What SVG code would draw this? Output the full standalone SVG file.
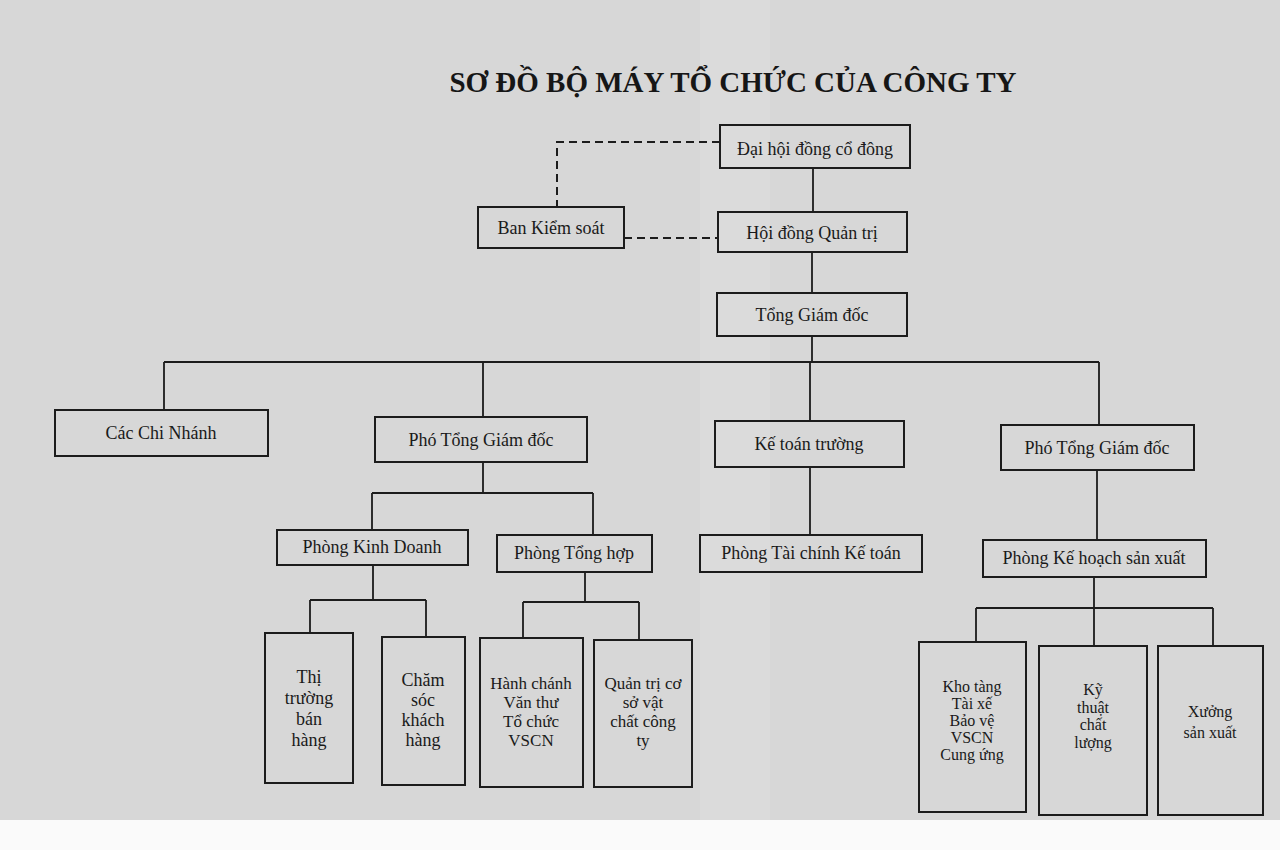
<svg xmlns="http://www.w3.org/2000/svg" width="1280" height="850" viewBox="0 0 1280 850">
<style>
.bx{fill:none;stroke:#1c1c1c;stroke-width:2}
.t{font-family:"Liberation Serif","Times New Roman",serif;font-size:18px;fill:#1a1a1a;text-anchor:middle}
.s{font-size:16px}
.m{font-size:17px}
.ttl{font-family:"Liberation Serif","Times New Roman",serif;font-size:29px;font-weight:bold;fill:#161616;text-anchor:middle}
.ln{fill:none;stroke:#1c1c1c;stroke-width:1.8}
.dl{fill:none;stroke:#1c1c1c;stroke-width:2;stroke-dasharray:8 5}
</style>
<rect x="0" y="0" width="1280" height="850" fill="#fafafa"/>
<rect x="0" y="0" width="1280" height="820" fill="#d7d7d7"/>
<rect x="700" y="0" width="70" height="820" fill="#dedede" opacity="0.6"/>
<text class="ttl" x="733" y="92">SƠ ĐỒ BỘ MÁY TỔ CHỨC CỦA CÔNG TY</text>
<g id="connectors">
<path class="dl" d="M720,142 H557 V207"/>
<path class="dl" d="M624,238 H718"/>
<path class="ln" d="M813,168 V212"/>
<path class="ln" d="M812,252 V293"/>
<path class="ln" d="M812,336 V362"/>
<path class="ln" d="M164,362 H1099"/>
<path class="ln" d="M164,362 V410 M483,362 V417 M810,362 V421 M1099,362 V425"/>
<path class="ln" d="M483,462 V493 M372,493 H593 M372,493 V530 M593,493 V535"/>
<path class="ln" d="M810,467 V535"/>
<path class="ln" d="M1097,470 V540"/>
<path class="ln" d="M373,565 V600 M310,600 H426 M310,600 V633 M426,600 V637"/>
<path class="ln" d="M585,572 V602 M523,602 H639 M523,602 V638 M639,602 V640"/>
<path class="ln" d="M1094,577 V608 M976,608 H1213 M976,608 V642 M1094,608 V646 M1213,608 V646"/>
</g>
<g id="n-dhcd"><rect class="bx" x="720" y="125" width="190" height="43"/><text class="t" x="815" y="155">Đại hội đồng cổ đông</text></g>
<g id="n-hdqt"><rect class="bx" x="718" y="212" width="189" height="40"/><text class="t" x="812" y="239">Hội đồng Quản trị</text></g>
<g id="n-bks"><rect class="bx" x="478" y="207" width="146" height="41"/><text class="t" x="551" y="234">Ban Kiểm soát</text></g>
<g id="n-tgd"><rect class="bx" x="717" y="293" width="190" height="43"/><text class="t" x="812" y="321">Tổng Giám đốc</text></g>
<g id="n-ccn"><rect class="bx" x="55" y="410" width="213" height="46"/><text class="t" x="161" y="439">Các Chi Nhánh</text></g>
<g id="n-ptgd1"><rect class="bx" x="375" y="417" width="212" height="45"/><text class="t" x="481" y="446">Phó Tổng Giám đốc</text></g>
<g id="n-ktt"><rect class="bx" x="715" y="421" width="189" height="46"/><text class="t" x="809" y="450">Kế toán trường</text></g>
<g id="n-ptgd2"><rect class="bx" x="1001" y="425" width="193" height="45"/><text class="t" x="1097" y="454">Phó Tổng Giám đốc</text></g>
<g id="n-pkd"><rect class="bx" x="277" y="530" width="191" height="35"/><text class="t" x="372" y="553">Phòng Kinh Doanh</text></g>
<g id="n-pth"><rect class="bx" x="497" y="535" width="155" height="37"/><text class="t" x="574" y="559">Phòng Tổng hợp</text></g>
<g id="n-ptckt"><rect class="bx" x="700" y="535" width="222" height="37"/><text class="t" x="811" y="559">Phòng Tài chính Kế toán</text></g>
<g id="n-pkhsx"><rect class="bx" x="983" y="540" width="223" height="37"/><text class="t" x="1094" y="564">Phòng Kế hoạch sản xuất</text></g>
<g id="n-ttbh"><rect class="bx" x="265" y="633" width="88" height="150"/><text class="t" x="309" y="683"><tspan x="309">Thị</tspan><tspan x="309" dy="21">trường</tspan><tspan x="309" dy="21">bán</tspan><tspan x="309" dy="21">hàng</tspan></text></g>
<g id="n-cskh"><rect class="bx" x="382" y="637" width="83" height="148"/><text class="t" x="423" y="686"><tspan x="423">Chăm</tspan><tspan x="423" dy="20">sóc</tspan><tspan x="423" dy="20">khách</tspan><tspan x="423" dy="20">hàng</tspan></text></g>
<g id="n-hc"><rect class="bx" x="480" y="638" width="103" height="149"/><text class="t m" x="531" y="689"><tspan x="531">Hành chánh</tspan><tspan x="531" dy="19">Văn thư</tspan><tspan x="531" dy="19">Tổ chức</tspan><tspan x="531" dy="19">VSCN</tspan></text></g>
<g id="n-qtcs"><rect class="bx" x="594" y="640" width="98" height="147"/><text class="t m" x="643" y="689"><tspan x="643">Quản trị cơ</tspan><tspan x="643" dy="19">sở vật</tspan><tspan x="643" dy="19">chất công</tspan><tspan x="643" dy="19">ty</tspan></text></g>
<g id="n-kho"><rect class="bx" x="919" y="642" width="107" height="170"/><text class="t s" x="972" y="692"><tspan x="972">Kho tàng</tspan><tspan x="972" dy="17">Tài xế</tspan><tspan x="972" dy="17">Bảo vệ</tspan><tspan x="972" dy="17">VSCN</tspan><tspan x="972" dy="17">Cung ứng</tspan></text></g>
<g id="n-ktcl"><rect class="bx" x="1039" y="646" width="108" height="169"/><text class="t s" x="1093" y="695"><tspan x="1093">Kỹ</tspan><tspan x="1093" dy="17.5">thuật</tspan><tspan x="1093" dy="17.5">chất</tspan><tspan x="1093" dy="17.5">lượng</tspan></text></g>
<g id="n-xsx"><rect class="bx" x="1158" y="646" width="105" height="169"/><text class="t s" x="1210" y="717"><tspan x="1210">Xưởng</tspan><tspan x="1210" dy="21">sản xuất</tspan></text></g>
</svg>
